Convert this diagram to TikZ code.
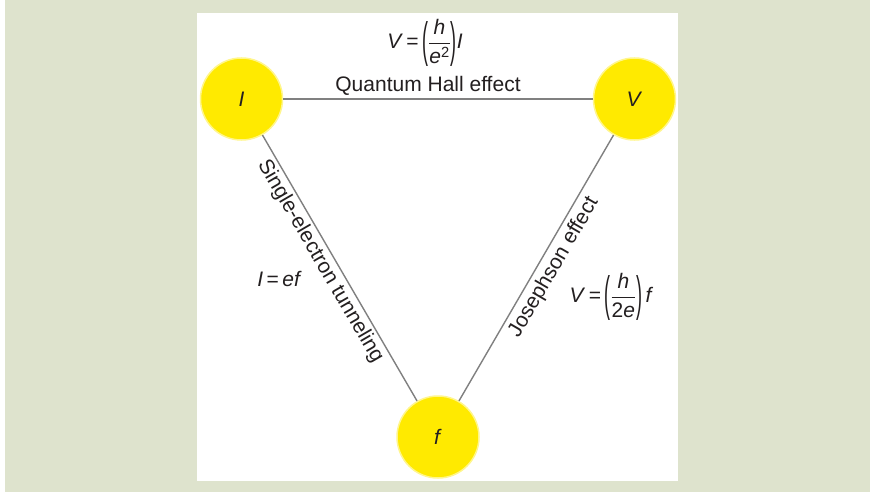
\documentclass[tikz,border=0pt]{standalone}
\usepackage{amsmath}
\usepackage{graphicx}
\usepackage{fontspec}
\setmainfont{Liberation Sans}
\usepackage{xcolor}
\definecolor{qback}{HTML}{DEE3CD}
\definecolor{qyellow}{HTML}{FFEA00}
\definecolor{qline}{HTML}{808080}
\definecolor{qtext}{HTML}{231F20}
\newcommand{\qv}[1]{\textit{#1}}
\newcommand{\qlp}{\mathopen{\vcenter{\hbox{\scalebox{0.85}[2.3]{(}}}}}
\newcommand{\qrp}{\mathclose{\vcenter{\hbox{\scalebox{0.85}[2.3]{)}}}}}

\begin{document}
\begin{tikzpicture}[
  x=1pt, y=-1pt,
  qty/.style={
    circle, fill=qyellow, draw=qyellow!45!white, line width=1.5pt,
    minimum size=82pt, inner sep=0pt,
    font=\fontsize{21}{25}\selectfont, text=qtext
  },
  link/.style={draw=qline, line width=1.4pt},
  lbl/.style={font=\fontsize{21}{25}\selectfont, text=qtext, inner sep=3pt},
  eqn/.style={lbl, inner sep=0pt},
]
  \useasboundingbox (0,0) rectangle (870,492);
  \fill[qback] (5,0) rectangle (870,492);
  \fill[white] (197,13) rectangle (678,480.5);

  \node[qty] (current) at (241.5, 99) {\qv{I}};
  \node[qty] (voltage) at (634.5, 99) {\qv{V}};
  \node[qty] (freq)    at (438, 437)  {\qv{f}};

  \draw[link] (current) -- (voltage);
  \draw[link] (current) --
    node[lbl, pos=0.45, sloped, below] {Single-electron tunneling} (freq);
  \draw[link] (freq) --
    node[lbl, pos=0.53, sloped, below, inner sep=4.5pt] {Josephson effect} (voltage);

  \node[lbl, anchor=base] (qhe) at (428, 92) {Quantum Hall effect};
  \node[eqn] (qheeq) at (425, 43)
    {\qv{V}\,=\,$\qlp\dfrac{\qv{h}}{\qv{e}^{\text{2}}}\qrp$\qv{I}};
  \node[eqn] (seteq) at (279.5, 279) {\qv{I}\,=\,\qv{ef}};
  \node[eqn] (jeq) at (611.5, 297)
    {\qv{V}\,=\,$\qlp\dfrac{\qv{h}}{\text{2}\qv{e}}\qrp$\,\qv{f}};
\end{tikzpicture}
\end{document}
